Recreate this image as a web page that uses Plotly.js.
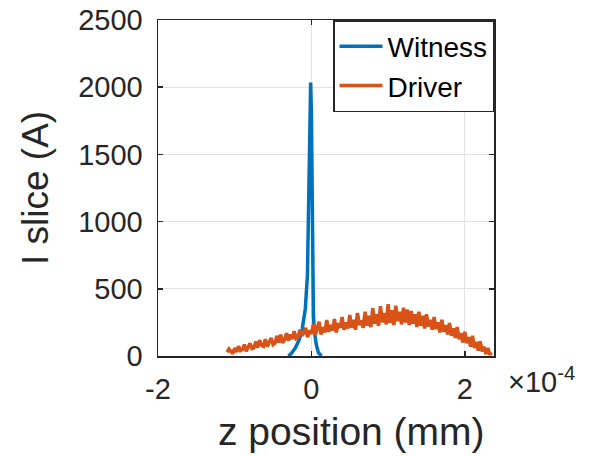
<!DOCTYPE html>
<html>
<head>
<meta charset="utf-8">
<script src="https://cdn.plot.ly/plotly-3.0.1.min.js"></script>
<style>html,body{margin:0;padding:0;background:#fff;}#chart{width:594px;height:456px;}</style>
</head>
<body>
<div id="chart"></div>
<script>
// z positions are given in units of 1e-4 mm; SCALE converts to mm
var SCALE = 1e-4;

// Witness slice current
var witnessZ = [-0.30, -0.26, -0.21, -0.16, -0.12, -0.08, -0.052, -0.033, -0.020, -0.010, 0.000, 0.013, 0.020, 0.026, 0.039, 0.065, 0.091, 0.13];
var witnessI = [0, 20, 60, 120, 200, 350, 600, 1200, 1800, 2035, 1800, 1000, 500, 300, 180, 80, 25, 0];

// Driver slice current
var driverZ = [
-1.100,-1.075,-1.050,-1.025,-1.000,-0.975,-0.950,-0.925,-0.900,-0.875,-0.850,-0.825,
-0.800,-0.775,-0.750,-0.725,-0.700,-0.675,-0.650,-0.625,-0.600,-0.575,-0.550,-0.525,
-0.500,-0.475,-0.450,-0.425,-0.400,-0.375,-0.350,-0.325,-0.300,-0.275,-0.250,-0.225,
-0.200,-0.175,-0.150,-0.125,-0.100,-0.075,-0.050,-0.025, 0.000, 0.025, 0.050, 0.075,
 0.100, 0.125, 0.150, 0.175, 0.200, 0.225, 0.250, 0.275, 0.300, 0.325, 0.350, 0.375,
 0.400, 0.425, 0.450, 0.475, 0.500, 0.525, 0.550, 0.575, 0.600, 0.625, 0.650, 0.675,
 0.700, 0.725, 0.750, 0.775, 0.800, 0.825, 0.850, 0.875, 0.900, 0.925, 0.950, 0.975,
 1.000, 1.025, 1.050, 1.075, 1.100, 1.125, 1.150, 1.175, 1.200, 1.225, 1.250, 1.275,
 1.300, 1.325, 1.350, 1.375, 1.400, 1.425, 1.450, 1.475, 1.500, 1.525, 1.550, 1.575,
 1.600, 1.625, 1.650, 1.675, 1.700, 1.725, 1.750, 1.775, 1.800, 1.825, 1.850, 1.875,
 1.900, 1.925, 1.950, 1.975, 2.000, 2.025, 2.050, 2.075, 2.100, 2.125, 2.150, 2.175,
 2.200, 2.225, 2.250, 2.275, 2.300, 2.325, 2.350];
var driverI = [
 28, 52, 35, 18, 60, 30, 72, 40, 48, 85, 35, 70,
 95, 55, 60,108, 62,118, 80, 72,125, 70,110,135,
 85, 95,150,100,158, 98,120,170,115,160,125,185,
130,140,195,150,172,210,140,190,165,235,155,200,
255,160,215,175,268,180,230,190,275,175,245,210,
290,195,250,205,305,210,270,195,320,230,265,210,
330,225,300,215,355,240,310,225,370,250,320,235,
385,245,340,230,375,260,330,235,360,250,345,230,
335,240,310,215,330,225,300,205,310,220,270,195,
290,200,250,175,270,180,230,160,245,150,205,135,
215,125,170,100,180, 95,140, 70,150, 60,105, 40,
110, 35, 70, 15, 60, 10, 25];

var xTickVals = [-2, 0, 2];
var xTickText = ['-2', '0', '2'];
var yTickVals = [0, 500, 1000, 1500, 2000, 2500];

function toMM(arr) { return arr.map(function (v) { return v * SCALE; }); }

var txt = '#262626';
var FONT = 'Arial, "Liberation Sans", Helvetica, sans-serif';

var traces = [
  {x: toMM(witnessZ), y: witnessI, type: 'scatter', mode: 'lines', name: 'Witness',
   line: {color: '#0072BD', width: 3.5}},
  {x: toMM(driverZ), y: driverI, type: 'scatter', mode: 'lines', name: 'Driver',
   line: {color: '#D95319', width: 3.5}}
];

var layout = {
  width: 594, height: 456,
  margin: {l: 158, r: 100, t: 20, b: 100},
  paper_bgcolor: '#ffffff', plot_bgcolor: '#ffffff',
  font: {family: FONT, color: txt, size: 29},
  showlegend: true,
  legend: {x: 1, xanchor: 'right', y: 1, yanchor: 'top', bgcolor: '#ffffff',
           bordercolor: '#262626', borderwidth: 1.5, font: {size: 28, color: '#000'},
           tracegroupgap: 0, itemwidth: 43},
  xaxis: {range: [-2e-4, 2.38e-4], tickvals: toMM(xTickVals), ticktext: xTickText,
          showgrid: true, gridcolor: '#e3e3e3', gridwidth: 1, zeroline: false,
          showline: true, linecolor: '#262626', linewidth: 1.5, mirror: 'ticks',
          ticks: 'inside', ticklen: 5, tickcolor: '#262626', tickwidth: 1.5,
          tickfont: {size: 29, color: txt, family: FONT}, ticklabelstandoff: 7},
  yaxis: {range: [0, 2500], tickvals: yTickVals,
          showgrid: true, gridcolor: '#e3e3e3', gridwidth: 1, zeroline: false,
          showline: true, linecolor: '#262626', linewidth: 1.5, mirror: 'ticks',
          ticks: 'inside', ticklen: 5, tickcolor: '#262626', tickwidth: 1.5,
          tickfont: {size: 29, color: txt, family: FONT}, ticklabelstandoff: 8},
  annotations: [
    {text: 'z position (mm)', xref: 'paper', yref: 'paper', x: 0.577, y: -0.226,
     xanchor: 'center', yanchor: 'middle', showarrow: false,
     font: {size: 39, color: txt, family: FONT}},
    {text: 'I slice (A)', xref: 'paper', yref: 'paper', x: -0.366, y: 0.5,
     xanchor: 'center', yanchor: 'middle', textangle: -90, showarrow: false,
     font: {size: 37, color: txt, family: FONT}},
    {text: '\u00d710<sup>-4</sup>', xref: 'paper', yref: 'paper', x: 1.035, y: -0.07,
     xanchor: 'left', yanchor: 'middle', showarrow: false,
     font: {size: 29, color: txt, family: FONT}}
  ]
};

Plotly.newPlot('chart', traces, layout, {displayModeBar: false, staticPlot: true});
</script>
</body>
</html>
